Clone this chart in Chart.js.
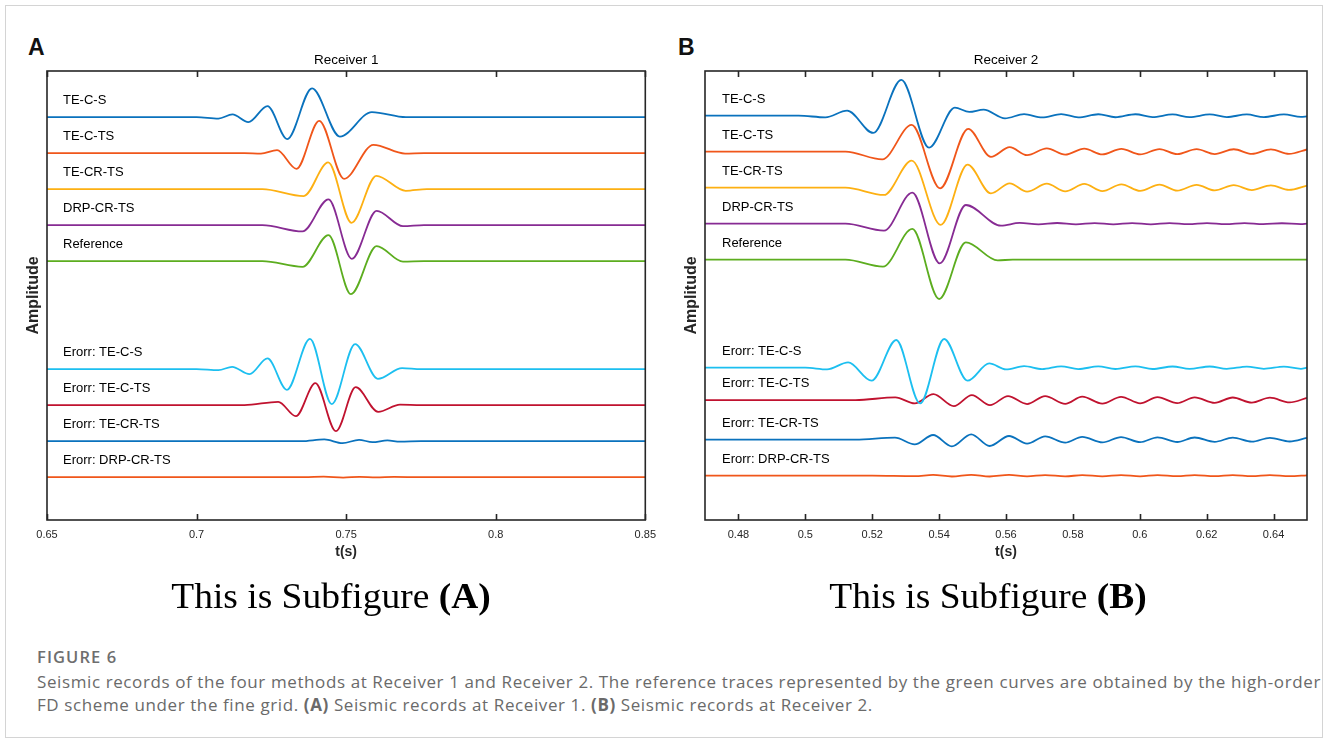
<!DOCTYPE html>
<html>
<head>
<meta charset="utf-8">
<title>Seismic records at two receivers</title>
<script src="https://cdn.jsdelivr.net/npm/chart.js@4.4.1/dist/chart.umd.min.js"></script>
<style>
  html, body { margin: 0; padding: 0; background: #fff; }
  body { width: 1328px; height: 740px; position: relative; overflow: hidden; }
  .frame { position: absolute; left: 5px; top: 5px; width: 1318px; height: 733px; border: 1px solid #d4d4d4; box-sizing: border-box; }
  canvas { position: absolute; top: 0; }
  #chartA { left: 0; }
  #chartB { left: 658px; }
  .tag { position: absolute; top: 35px; font: bold 23px/24px "Liberation Sans", Arial, sans-serif; color: #111; }
  .sub { position: absolute; top: 576px; height: 42px; text-align: center; font: 35px/42px "Liberation Serif", "Times New Roman", serif; color: #000; transform: scaleX(1.07); }
  .caption { position: absolute; left: 37px; top: 646px; width: 1290px; font-family: "Open Sans", "Noto Sans", sans-serif; color: #6a6a6a; white-space: nowrap; }
  .caption .fig { font-size: 16.5px; line-height: 22px; font-weight: 600; color: #6e6e6e; letter-spacing: 1.1px; }
  .caption p { margin: 2px 0 0 0; font-size: 17px; line-height: 23px; letter-spacing: 0.6px; }
</style>
</head>
<body>
<div class="frame"></div>
<div class="tag" style="left:28px">A</div>
<div class="tag" style="left:678px">B</div>
<canvas id="chartA" width="664" height="580"></canvas>
<canvas id="chartB" width="666" height="580"></canvas>
<div class="sub" style="left:0; width:662px">This is Subfigure <b>(A)</b></div>
<div class="sub" style="left:658px; width:660px">This is Subfigure <b>(B)</b></div>
<div class="caption">
  <div class="fig">FIGURE 6</div>
  <p>Seismic records of the four methods at Receiver 1 and Receiver 2. The reference traces represented by the green curves are obtained by the high-order<br>FD scheme under the fine grid. <b>(A)</b> Seismic records at Receiver 1. <b>(B)</b> Seismic records at Receiver 2.</p>
</div>

<script>
// ---- trace names, colours, stacking ----
const traceLabels = ['TE-C-S', 'TE-C-TS', 'TE-CR-TS', 'DRP-CR-TS', 'Reference',
  'Erorr: TE-C-S', 'Erorr: TE-C-TS', 'Erorr: TE-CR-TS', 'Erorr: DRP-CR-TS'];
const traceColors = ['#0a72bd', '#f0561a', '#fdb012', '#872b93', '#5cad1f',
  '#1cbff0', '#c0122f', '#0a72bd', '#f0561a'];

// ---- Receiver 1 (normalised amplitude, trace spacing = 1) ----
const r1Ticks = [0.65, 0.7, 0.75, 0.8, 0.85];
const r1Offsets = [0, -1, -2, -3, -4, -7, -8, -9, -10];

const r1T_tecs = [0.65, 0.700, 0.7073, 0.7120, 0.7173, 0.7237, 0.7303, 0.7386, 0.7479, 0.7586, 0.7700, 0.85];
const r1A_tecs = [0, 0, -0.04, 0.075, -0.14, 0.305, -0.61, 0.80, -0.54, 0.14, 0, 0];

const r1T_tects = [0.65, 0.716, 0.7215, 0.7269, 0.7334, 0.7410, 0.7493, 0.7591, 0.7697, 0.776, 0.85];
const r1A_tects = [0, 0, -0.015, 0.083, -0.436, 0.897, -0.714, 0.231, -0.014, 0, 0];

const r1T_tecrts = [0.65, 0.722, 0.7358, 0.7440, 0.7518, 0.7601, 0.7699, 0.777, 0.85];
const r1A_tecrts = [0, 0, -0.194, 0.742, -0.936, 0.369, -0.047, 0, 0];

const r1T_drp = [0.65, 0.722, 0.7354, 0.7441, 0.7519, 0.7602, 0.7690, 0.776, 0.85];
const r1A_drp = [0, 0, -0.175, 0.714, -0.936, 0.397, -0.028, 0, 0];

const r1T_ref = [0.65, 0.722, 0.7354, 0.7441, 0.7516, 0.7602, 0.769, 0.776, 0.85];
const r1A_ref = [0, 0, -0.158, 0.722, -0.917, 0.417, -0.014, 0, 0];

const r1T_errTecs = [0.65, 0.700, 0.7073, 0.7119, 0.7177, 0.7237, 0.7302, 0.7379, 0.7452, 0.7530, 0.7606, 0.7687, 0.775, 0.85];
const r1A_errTecs = [0, 0, -0.028, 0.064, -0.139, 0.297, -0.575, 0.842, -0.972, 0.694, -0.269, 0.028, 0, 0];

const r1T_errTects = [0.65, 0.716, 0.7273, 0.7332, 0.7397, 0.7466, 0.7532, 0.7607, 0.768, 0.775, 0.85];
const r1A_errTects = [0, 0, 0.092, -0.306, 0.611, -0.722, 0.5, -0.186, 0.014, 0, 0];

const r1T_errTecrts = [0.65, 0.735, 0.7427, 0.7488, 0.7543, 0.7588, 0.7638, 0.768, 0.775, 0.85];
const r1A_errTecrts = [0, 0, 0.047, -0.056, 0.036, -0.028, 0.019, -0.014, 0, 0];

const r1T_errDrp = [0.65, 0.736, 0.7425, 0.749, 0.7545, 0.760, 0.766, 0.775, 0.85];
const r1A_errDrp = [0, 0, 0.012, -0.012, 0.01, -0.008, 0.006, 0, 0];

// ---- Receiver 2 ----
const r2Ticks = [0.48, 0.5, 0.52, 0.54, 0.56, 0.58, 0.6, 0.62, 0.64];
const r2Offsets = [0, -1, -2, -3, -4, -7, -7.9, -9, -10];

const r2T_tecs = [0.47, 0.498, 0.5060, 0.5125, 0.5203, 0.5287, 0.5370, 0.5447, 0.5490, 0.5533, 0.5597, 0.5654, 0.5708,
  0.5765, 0.5816, 0.5876, 0.5927, 0.5987, 0.6038, 0.6098, 0.6149, 0.6209, 0.6260, 0.6320, 0.6371, 0.6431, 0.6482, 0.65];
const r2A_tecs = [0, 0, -0.047, 0.139, -0.481, 0.992, -0.889, 0.222, 0.103, 0.167, -0.075, 0.042, -0.05,
  0.042, -0.047, 0.039, -0.044, 0.039, -0.042, 0.036, -0.042, 0.036, -0.039, 0.033, -0.039, 0.033, -0.036, -0.02];

const r2T_tects = [0.47, 0.512, 0.5230, 0.5318, 0.5403, 0.5487, 0.5555, 0.5611, 0.5663, 0.5722, 0.5777, 0.5834,
  0.5888, 0.5945, 0.6001, 0.6059, 0.6112, 0.6170, 0.6224, 0.6281, 0.6335, 0.6392, 0.6446, 0.6500];
const r2A_tects = [0, 0, -0.214, 0.742, -1.019, 0.631, -0.147, 0.125, -0.097, 0.092, -0.083, 0.083,
  -0.078, 0.078, -0.075, 0.072, -0.069, 0.069, -0.067, 0.067, -0.064, 0.064, -0.061, 0.061];

const r2T_tecrts = [0.47, 0.512, 0.5235, 0.5318, 0.5405, 0.5485, 0.5555, 0.5611, 0.5663, 0.5722, 0.5777, 0.5834,
  0.5888, 0.5945, 0.6001, 0.6059, 0.6112, 0.6170, 0.6224, 0.6281, 0.6335, 0.6392, 0.6446, 0.6500];
const r2A_tecrts = [0, 0, -0.203, 0.75, -1.036, 0.639, -0.158, 0.119, -0.111, 0.111, -0.103, 0.103,
  -0.097, 0.092, -0.089, 0.083, -0.083, 0.078, -0.075, 0.069, -0.067, 0.064, -0.061, 0.058];

const r2T_drp = [0.47, 0.512, 0.5235, 0.5320, 0.5402, 0.5480, 0.5585, 0.5641, 0.5697, 0.5753, 0.5809, 0.5865,
  0.5921, 0.5977, 0.6033, 0.6089, 0.6145, 0.6201, 0.6257, 0.6313, 0.6369, 0.6425, 0.6481, 0.65];
const r2A_drp = [0, 0, -0.194, 0.861, -1.103, 0.519, -0.056, 0.022, -0.022, 0.019, -0.019, 0.017,
  -0.017, 0.017, -0.017, 0.014, -0.014, 0.014, -0.014, 0.014, -0.014, 0.011, -0.011, 0];

const r2T_ref = [0.47, 0.512, 0.5232, 0.5320, 0.5400, 0.5480, 0.5575, 0.562, 0.65];
const r2A_ref = [0, 0, -0.194, 0.853, -1.092, 0.481, -0.019, 0, 0];

const r2T_errTecs = [0.47, 0.500, 0.5065, 0.5128, 0.5198, 0.5272, 0.5343, 0.5415, 0.5485, 0.5550, 0.5600, 0.5654, 0.5708,
  0.5765, 0.5816, 0.5876, 0.5927, 0.5987, 0.6038, 0.6098, 0.6149, 0.6209, 0.6260, 0.6320, 0.6371, 0.6431, 0.6482, 0.65];
const r2A_errTecs = [0, 0, -0.047, 0.147, -0.361, 0.769, -0.992, 0.797, -0.361, 0.119, -0.047, 0.042, -0.042,
  0.039, -0.039, 0.036, -0.036, 0.036, -0.036, 0.033, -0.033, 0.033, -0.033, 0.031, -0.031, 0.031, -0.031, 0];

const r2T_errTects = [0.47, 0.515, 0.5269, 0.5327, 0.5383, 0.5444, 0.5498, 0.5552, 0.5606, 0.5663, 0.5717, 0.5777,
  0.5828, 0.5888, 0.5944, 0.6001, 0.6053, 0.6112, 0.6164, 0.6224, 0.6278, 0.6335, 0.6389, 0.6448, 0.6500];
const r2A_errTects = [0, 0, 0.075, -0.092, 0.167, -0.167, 0.139, -0.139, 0.111, -0.111, 0.111, -0.103,
  0.097, -0.097, 0.092, -0.089, 0.083, -0.083, 0.078, -0.075, 0.072, -0.069, 0.067, -0.064, 0.061];

const r2T_errTecrts = [0.47, 0.515, 0.5268, 0.5327, 0.5382, 0.5438, 0.5496, 0.5551, 0.5609, 0.5663, 0.5717, 0.5777,
  0.5828, 0.5888, 0.5944, 0.6001, 0.6053, 0.6112, 0.6164, 0.6224, 0.6278, 0.6335, 0.6389, 0.6448, 0.6500];
const r2A_errTecrts = [0, 0, 0.056, -0.131, 0.131, -0.186, 0.147, -0.175, 0.103, -0.111, 0.092, -0.083,
  0.078, -0.075, 0.072, -0.069, 0.067, -0.064, 0.061, -0.058, 0.056, -0.056, 0.053, -0.05, 0.05];

const r2T_errDrp = [0.47, 0.52, 0.5327, 0.5382, 0.5438, 0.5496, 0.5551, 0.5609, 0.5663, 0.5717, 0.5777, 0.5828,
  0.5888, 0.5944, 0.6001, 0.6053, 0.6112, 0.6164, 0.6224, 0.6278, 0.6335, 0.6389, 0.6448, 0.65];
const r2A_errDrp = [0, 0, -0.014, 0.022, -0.022, 0.025, -0.022, 0.022, -0.019, 0.019, -0.019, 0.017,
  -0.017, 0.017, -0.017, 0.017, -0.014, 0.014, -0.014, 0.014, -0.014, 0.014, -0.014, 0.011];

Chart.defaults.font.family = '"Liberation Sans", Arial, Helvetica, sans-serif';
Chart.defaults.color = '#262626';

// Draws the axes box, inward x ticks, the panel title and a label above each trace
const traceFrame = {
  id: 'traceFrame',
  afterDatasetsDraw(chart, args, opts) {
    const ctx = chart.ctx;
    const a = chart.chartArea;
    const xs = chart.scales.x, ys = chart.scales.y;
    ctx.save();

    ctx.fillStyle = '#000';
    ctx.textAlign = 'left';
    ctx.textBaseline = 'middle';
    ctx.font = '13px "Liberation Sans", Arial, sans-serif';
    opts.labels.forEach(function (txt, i) {
      ctx.fillText(txt, a.left + opts.inset, ys.getPixelForValue(opts.offsets[i] + 0.46));
    });

    ctx.strokeStyle = '#262626';
    ctx.lineWidth = 1.6;
    ctx.strokeRect(a.left, a.top, a.right - a.left, a.bottom - a.top);
    ctx.beginPath();
    opts.ticks.forEach(function (v) {
      const px = Math.round(xs.getPixelForValue(v)) + 0.5;
      ctx.moveTo(px, a.bottom); ctx.lineTo(px, a.bottom - 6);
      ctx.moveTo(px, a.top); ctx.lineTo(px, a.top + 6);
    });
    ctx.stroke();

    ctx.textAlign = 'center';
    ctx.font = '13.5px "Liberation Sans", Arial, sans-serif';
    ctx.fillText(opts.title, (a.left + a.right) / 2, 60);
    ctx.restore();
  }
};

function buildTraces(times, amps, offsets) {
  return times.map(function (t, i) {
    return {
      label: traceLabels[i],
      data: t.map(function (v, j) { return { x: v, y: offsets[i] + amps[i][j] }; }),
      borderColor: traceColors[i],
      borderWidth: 1.8,
      pointRadius: 0,
      fill: false,
      cubicInterpolationMode: 'monotone'
    };
  });
}

function drawPanel(id, cfg) {
  return new Chart(document.getElementById(id), {
    type: 'line',
    data: { datasets: buildTraces(cfg.times, cfg.amps, cfg.offsets) },
    plugins: [traceFrame],
    options: {
      responsive: false,
      animation: false,
      devicePixelRatio: 1,
      events: [],
      layout: { padding: { top: 71, right: cfg.padRight, bottom: 0, left: 0 } },
      plugins: {
        legend: { display: false },
        tooltip: { enabled: false },
        traceFrame: { labels: traceLabels, offsets: cfg.offsets, ticks: cfg.ticks, title: cfg.title, inset: cfg.inset }
      },
      scales: {
        x: {
          type: 'linear',
          min: cfg.xMin,
          max: cfg.xMax,
          afterBuildTicks: function (s) { s.ticks = cfg.ticks.map(function (v) { return { value: v }; }); },
          afterFit: function (s) { s.height = 60; },
          grid: { display: false, drawTicks: false },
          border: { display: false },
          ticks: {
            autoSkip: false, maxRotation: 0, padding: 8,
            font: { size: 11 },
            callback: function (v) { return String(v); }
          },
          title: { display: true, text: 't(s)', font: { size: 14, weight: 'bold' }, padding: { top: 0, bottom: 19 } }
        },
        y: {
          type: 'linear',
          min: cfg.yMin,
          max: cfg.yMax,
          afterFit: function (s) { s.width = 47; },
          grid: { display: false, drawTicks: false },
          border: { display: false },
          ticks: { display: false },
          title: { display: true, text: 'Amplitude', font: { size: 16, weight: 'bold' }, padding: { top: 24, bottom: 0 } }
        }
      }
    }
  });
}

drawPanel('chartA', {
  title: 'Receiver 1',
  xMin: 0.65, xMax: 0.85, ticks: r1Ticks,
  yMin: -11.19, yMax: 1.28,
  offsets: r1Offsets,
  padRight: 17, inset: 16,
  times: [r1T_tecs, r1T_tects, r1T_tecrts, r1T_drp, r1T_ref, r1T_errTecs, r1T_errTects, r1T_errTecrts, r1T_errDrp],
  amps: [r1A_tecs, r1A_tects, r1A_tecrts, r1A_drp, r1A_ref, r1A_errTecs, r1A_errTects, r1A_errTecrts, r1A_errDrp]
});

drawPanel('chartB', {
  title: 'Receiver 2',
  xMin: 0.47, xMax: 0.65, ticks: r2Ticks,
  yMin: -11.23, yMax: 1.24,
  offsets: r2Offsets,
  padRight: 17, inset: 17,
  times: [r2T_tecs, r2T_tects, r2T_tecrts, r2T_drp, r2T_ref, r2T_errTecs, r2T_errTects, r2T_errTecrts, r2T_errDrp],
  amps: [r2A_tecs, r2A_tects, r2A_tecrts, r2A_drp, r2A_ref, r2A_errTecs, r2A_errTects, r2A_errTecrts, r2A_errDrp]
});
</script>
</body>
</html>
